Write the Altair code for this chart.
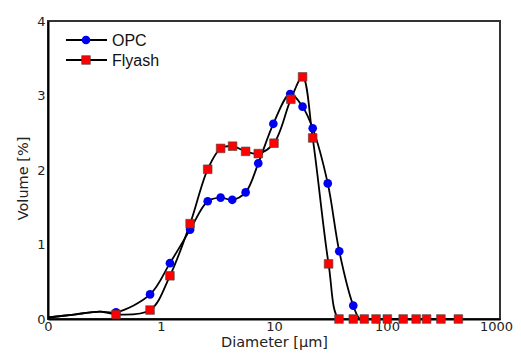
import altair as alt
import pandas as pd

# OPC (blue circles)
opc_d = [0.4, 0.8, 1.2, 1.81, 2.59, 3.37, 4.27, 5.61, 7.26, 9.87, 13.9, 17.9, 22.0, 29.9, 37.8, 50.3]
opc_v = [0.09, 0.33, 0.75, 1.20, 1.58, 1.63, 1.60, 1.70, 2.09, 2.62, 3.02, 2.85, 2.56, 1.82, 0.91, 0.18]

# Flyash (red squares)
fly_d = [0.4, 0.8, 1.2, 1.81, 2.59, 3.37, 4.30, 5.61, 7.26, 10.0, 14.1, 17.9, 22.0, 30.4, 37.6,
         50.3, 63, 80, 100.7, 139, 181, 224, 300, 428]
fly_v = [0.06, 0.12, 0.58, 1.28, 2.01, 2.29, 2.32, 2.25, 2.22, 2.36, 2.95, 3.25, 2.43, 0.74, 0.0,
         0.0, 0.0, 0.0, 0.0, 0.0, 0.0, 0.0, 0.0, 0.0]

# fitted-curve parts without markers
lead_d = [0.1, 0.17, 0.29]
lead_v = [0.02, 0.06, 0.10]
opc_tail_d = [58, 75]
opc_tail_v = [0.0, 0.0]

series = ["OPC", "Flyash"]
colors = ["#0000F0", "#FF0000"]
shapes = ["circle", "square"]

x_ticks = [0.1, 1, 10, 100, 1000]
y_ticks = [0, 1, 2, 3, 4]

line_rows = []
for d, v in zip(lead_d + opc_d + opc_tail_d, lead_v + opc_v + opc_tail_v):
    line_rows.append({"series": "OPC", "d": d, "v": v})
for d, v in zip(lead_d + fly_d, lead_v + fly_v):
    line_rows.append({"series": "Flyash", "d": d, "v": v})
line_df = pd.DataFrame(line_rows)

pt_rows = [{"series": "OPC", "d": d, "v": v} for d, v in zip(opc_d, opc_v)]
pt_rows += [{"series": "Flyash", "d": d, "v": v} for d, v in zip(fly_d, fly_v)]
pt_df = pd.DataFrame(pt_rows)

xscale = alt.Scale(type="log", domain=[0.1, 1000], nice=False)
yscale = alt.Scale(domain=[0, 4], nice=False)

xenc = alt.X("d:Q", scale=xscale,
             axis=alt.Axis(values=x_ticks, title="Diameter [\u03bcm]",
                           labelExpr="datum.value < 1 ? '0' : format(datum.value, 'd')",
                           labelOffset={"condition": {"test": "datum.value >= 1000", "value": -4}, "value": 0},
                           ticks=False, grid=False, labelPadding=1, titlePadding=2,
                           labelFlush=False, labelOverlap=False))
yenc = alt.Y("v:Q", scale=yscale,
             axis=alt.Axis(values=y_ticks, title="Volume [%]", ticks=False, grid=False,
                           labelPadding=3, titlePadding=6, titleY=157, format="d"))

lines = alt.Chart(line_df).mark_line(
    interpolate="catmull-rom", color="black", strokeWidth=1.8, clip=True
).encode(x=xenc, y=yenc, detail="series:N")

points = alt.Chart(pt_df).mark_point(
    filled=True, size=75, stroke="#444", strokeWidth=0.6, opacity=1
).encode(
    x="d:Q", y="v:Q",
    color=alt.Color("series:N", scale=alt.Scale(domain=series, range=colors), legend=None),
    shape=alt.Shape("series:N", scale=alt.Scale(domain=series, range=shapes), legend=None),
    strokeOpacity=alt.condition("datum.series == 'OPC'", alt.value(0), alt.value(1)),
)

# manual legend
leg_df = pd.DataFrame({"series": series, "row": [0, 1]})
leg_y = "19 + datum.row * 20"
leg_base = alt.Chart(leg_df).transform_calculate(py=leg_y)
leg_line = leg_base.mark_rule(color="black", strokeWidth=1.8).encode(
    x=alt.value(18), x2=alt.value(59), y=alt.Y("py:Q", scale=None))
leg_pt = leg_base.mark_point(filled=True, size=75, stroke="#444", strokeWidth=0.6, opacity=1).encode(
    x=alt.value(38), y=alt.Y("py:Q", scale=None),
    color=alt.Color("series:N", scale=alt.Scale(domain=series, range=colors), legend=None),
    shape=alt.Shape("series:N", scale=alt.Scale(domain=series, range=shapes), legend=None),
    strokeOpacity=alt.condition("datum.series == 'OPC'", alt.value(0), alt.value(1)),
)
leg_txt = leg_base.mark_text(align="left", baseline="middle", font="Liberation Sans",
                             fontSize=16, color="#111", dy=1).encode(
    x=alt.value(64), y=alt.Y("py:Q", scale=None), text="series:N")

chart = alt.layer(lines, points, leg_line, leg_pt, leg_txt).properties(
    width=452, height=298,
    autosize=alt.AutoSizeParams(type="none"),
    padding={"left": 40, "top": 13, "right": 13, "bottom": 33},
).configure_view(
    stroke="#333", strokeWidth=2
).configure_axis(
    domainColor="black", domainWidth=2,
    labelFont="DejaVu Sans", labelFontSize=13, labelColor="#222",
    titleFont="DejaVu Sans", titleFontSize=14.5, titleFontWeight="normal", titleColor="#222",
)

chart.save("out.html", embed_options={"renderer": "svg", "actions": False})
